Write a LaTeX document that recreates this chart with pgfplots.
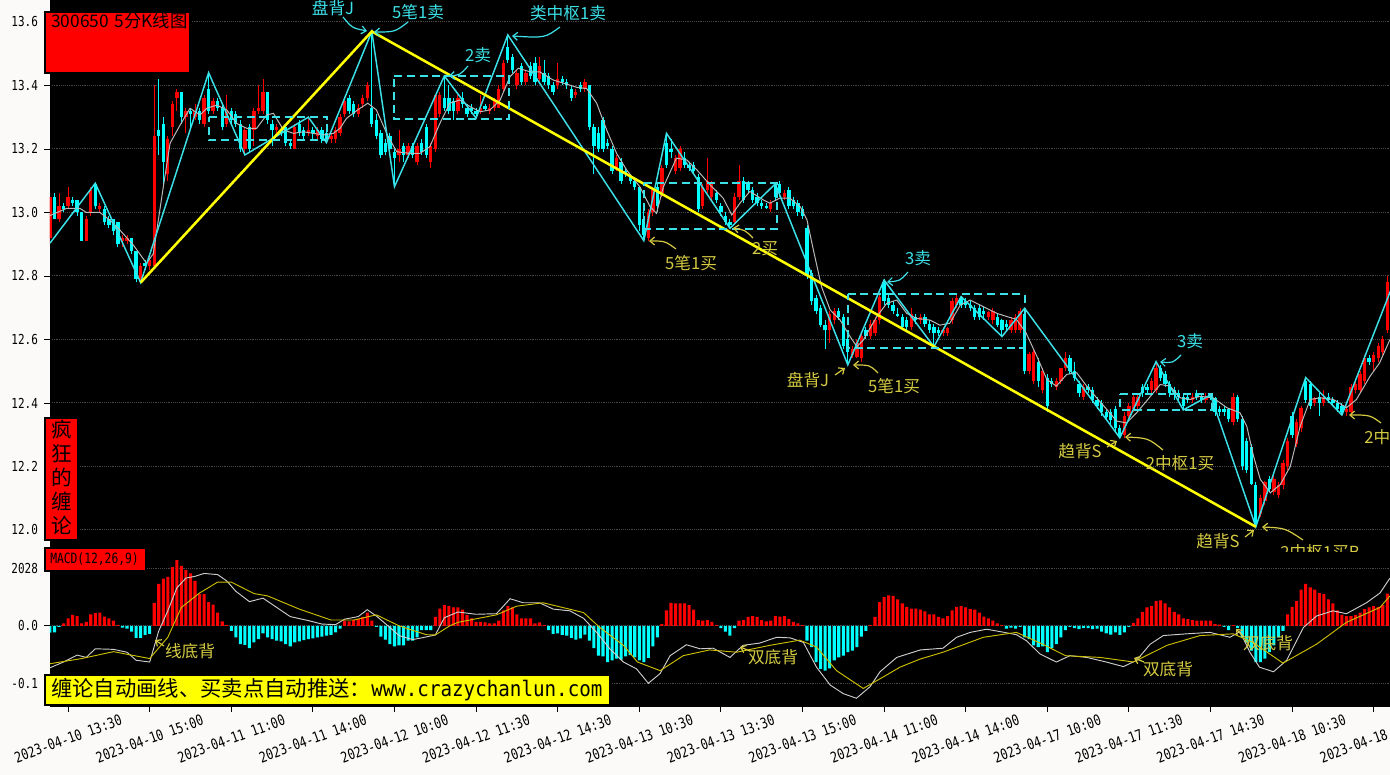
\documentclass[border=0pt]{standalone}
\usepackage{fontspec}
\usepackage{pgfplots}
\usepackage{pgfplotstable}
\pgfplotsset{compat=1.18}
\usetikzlibrary{arrows.meta}
\setmainfont{Noto Sans CJK SC}
\newfontfamily\cjk{Noto Sans CJK SC}
\newfontfamily\monof{DejaVu Sans Mono}[FakeStretch=0.9]
\newfontfamily\monon{DejaVu Sans Mono}[FakeStretch=0.8]
\definecolor{bg}{RGB}{252,250,249}
\definecolor{kred}{RGB}{255,0,0}
\definecolor{kcyan}{RGB}{0,255,255}
\definecolor{zz}{RGB}{60,225,232}
\definecolor{olive}{RGB}{212,202,66}
\definecolor{ylw}{RGB}{255,255,0}
\definecolor{grd}{RGB}{72,72,72}
\definecolor{dea}{RGB}{205,190,0}
\definecolor{dif}{RGB}{205,205,205}

\pgfplotstableread{
x o h l c
-1 12.92 13.05 12.90 13.05
0 13.05 13.06 12.98 12.98
1 12.98 13.06 12.97 13.02
2 13.02 13.03 13.00 13.01
3 13.02 13.08 13.01 13.05
4 13.04 13.05 13.02 13.03
5 13.04 13.04 12.99 13.00
6 13.00 13.00 12.91 12.91
7 12.91 12.99 12.91 12.98
8 13.00 13.08 12.99 13.07
9 13.09 13.09 13.01 13.02
10 13.01 13.03 13.00 13.02
11 13.01 13.02 12.96 12.97
12 12.98 12.99 12.95 12.96
13 12.98 12.98 12.93 12.94
14 12.97 12.97 12.89 12.90
15 12.91 12.93 12.89 12.92
16 12.91 12.93 12.90 12.92
17 12.92 12.92 12.87 12.88
18 12.88 12.88 12.78 12.79
19 12.78 12.84 12.78 12.83
20 12.84 12.85 12.82 12.83
21 12.83 12.86 12.82 12.85
22 12.83 13.40 12.83 13.24
23 13.26 13.42 13.18 13.24
24 13.28 13.30 13.09 13.16
25 13.12 13.24 13.10 13.23
26 13.27 13.35 13.24 13.34
27 13.36 13.39 13.32 13.38
28 13.38 13.38 13.28 13.30
29 13.30 13.33 13.25 13.32
30 13.32 13.33 13.27 13.31
31 13.30 13.34 13.29 13.32
32 13.32 13.33 13.28 13.29
33 13.28 13.37 13.27 13.36
34 13.39 13.44 13.31 13.32
35 13.32 13.36 13.31 13.35
36 13.35 13.36 13.32 13.33
37 13.33 13.34 13.26 13.27
38 13.28 13.37 13.27 13.32
39 13.32 13.33 13.28 13.29
40 13.31 13.32 13.27 13.28
41 13.28 13.29 13.19 13.20
42 13.20 13.27 13.18 13.26
43 13.27 13.28 13.19 13.20
44 13.26 13.33 13.21 13.32
45 13.32 13.40 13.31 13.33
46 13.32 13.42 13.31 13.38
47 13.38 13.38 13.28 13.29
48 13.28 13.29 13.21 13.26
49 13.26 13.28 13.24 13.27
50 13.26 13.27 13.24 13.25
51 13.27 13.28 13.21 13.22
52 13.22 13.23 13.20 13.21
53 13.20 13.28 13.20 13.27
54 13.28 13.29 13.24 13.25
55 13.26 13.27 13.23 13.24
56 13.25 13.30 13.24 13.26
57 13.26 13.27 13.23 13.25
58 13.24 13.27 13.23 13.26
59 13.26 13.27 13.22 13.23
60 13.25 13.26 13.22 13.23
61 13.23 13.25 13.22 13.24
62 13.23 13.27 13.22 13.26
63 13.25 13.31 13.24 13.30
64 13.31 13.36 13.30 13.35
65 13.36 13.37 13.31 13.32
66 13.34 13.35 13.30 13.31
67 13.31 13.34 13.30 13.33
68 13.34 13.37 13.33 13.36
69 13.36 13.41 13.35 13.40
70 13.33 13.57 13.27 13.28
71 13.29 13.31 13.23 13.24
72 13.25 13.26 13.17 13.18
73 13.22 13.23 13.18 13.19
74 13.24 13.25 13.19 13.20
75 13.19 13.20 13.08 13.17
76 13.18 13.26 13.16 13.20
77 13.21 13.22 13.16 13.18
78 13.18 13.22 13.17 13.21
79 13.21 13.22 13.17 13.18
80 13.16 13.22 13.15 13.21
81 13.22 13.23 13.18 13.19
82 13.27 13.28 13.17 13.18
83 13.16 13.22 13.14 13.21
84 13.20 13.37 13.19 13.37
85 13.31 13.38 13.30 13.37
86 13.36 13.43 13.32 13.33
87 13.36 13.40 13.31 13.32
88 13.35 13.36 13.29 13.32
89 13.32 13.37 13.31 13.36
90 13.36 13.38 13.33 13.34
91 13.33 13.34 13.30 13.31
92 13.33 13.34 13.31 13.32
93 13.32 13.33 13.30 13.31
94 13.32 13.37 13.31 13.33
95 13.335 13.34 13.32 13.325
96 13.32 13.34 13.31 13.33
97 13.33 13.36 13.32 13.35
98 13.33 13.40 13.33 13.39
99 13.39 13.48 13.38 13.47
100 13.52 13.56 13.47 13.48
101 13.49 13.50 13.44 13.45
102 13.40 13.45 13.39 13.44
103 13.46 13.47 13.40 13.41
104 13.41 13.45 13.40 13.44
105 13.46 13.475 13.42 13.43
106 13.47 13.49 13.40 13.41
107 13.42 13.49 13.41 13.46
108 13.44 13.48 13.40 13.41
109 13.43 13.44 13.39 13.40
110 13.40 13.41 13.37 13.38
111 13.40 13.47 13.39 13.42
112 13.42 13.43 13.40 13.41
113 13.41 13.42 13.39 13.40
114 13.39 13.40 13.35 13.36
115 13.37 13.39 13.36 13.38
116 13.40 13.41 13.38 13.39
117 13.39 13.42 13.38 13.41
118 13.40 13.40 13.26 13.27
119 13.27 13.28 13.12 13.21
120 13.25 13.27 13.19 13.20
121 13.29 13.30 13.19 13.20
122 13.22 13.23 13.20 13.21
123 13.20 13.21 13.12 13.13
124 13.14 13.18 13.13 13.17
125 13.16 13.17 13.09 13.10
126 13.13 13.14 13.11 13.12
127 13.11 13.12 13.09 13.10
128 13.10 13.11 13.07 13.08
129 13.08 13.08 12.94 12.96
130 12.98 13.01 12.91 12.93
131 12.92 13.01 12.91 13.00
132 13.00 13.08 12.99 13.07
133 13.08 13.09 13.00 13.02
134 13.06 13.15 13.05 13.14
135 13.22 13.25 13.14 13.15
136 13.20 13.23 13.17 13.19
137 13.13 13.18 13.12 13.17
138 13.14 13.21 13.13 13.20
139 13.17 13.19 13.14 13.15
140 13.15 13.16 13.13 13.14
141 13.15 13.16 13.12 13.13
142 13.11 13.12 13.00 13.01
143 13.02 13.09 13.01 13.08
144 13.07 13.17 13.06 13.10
145 13.05 13.10 13.04 13.09
146 13.06 13.07 13.03 13.04
147 13.02 13.03 12.99 13.00
148 12.99 13.00 12.96 12.97
149 12.97 12.98 12.95 12.96
150 12.97 13.06 12.96 13.05
151 13.05 13.15 13.04 13.10
152 13.10 13.11 13.03 13.04
153 13.09 13.10 13.06 13.07
154 13.07 13.08 13.03 13.04
155 13.05 13.06 13.02 13.03
156 13.03 13.04 13.01 13.02
157 13.02 13.03 13.01 13.015
158 13.01 13.04 13.00 13.03
159 13.09 13.09 13.04 13.05
160 13.09 13.10 13.05 13.06
161 13.05 13.07 13.04 13.06
162 13.07 13.08 13.01 13.02
163 13.04 13.05 13.01 13.02
164 13.03 13.04 12.99 13.00
165 13.01 13.02 12.98 12.99
166 12.95 12.96 12.79 12.80
167 12.81 12.82 12.71 12.72
168 12.73 12.74 12.68 12.69
169 12.70 12.71 12.64 12.645
170 12.645 12.66 12.57 12.63
171 12.63 12.69 12.59 12.68
172 12.66 12.70 12.65 12.69
173 12.69 12.70 12.66 12.67
174 12.67 12.68 12.57 12.58
175 12.60 12.61 12.52 12.56
176 12.55 12.58 12.54 12.57
177 12.545 12.60 12.54 12.59
178 12.54 12.62 12.53 12.61
179 12.63 12.64 12.60 12.61
180 12.61 12.66 12.60 12.65
181 12.62 12.67 12.61 12.66
182 12.66 12.74 12.65 12.735
183 12.78 12.79 12.71 12.72
184 12.73 12.74 12.70 12.71
185 12.71 12.72 12.68 12.69
186 12.68 12.70 12.67 12.675
187 12.67 12.68 12.63 12.64
188 12.66 12.67 12.63 12.64
189 12.64 12.70 12.63 12.68
190 12.67 12.68 12.65 12.66
191 12.66 12.68 12.65 12.67
192 12.67 12.68 12.64 12.65
193 12.65 12.66 12.62 12.63
194 12.64 12.65 12.577 12.62
195 12.63 12.64 12.61 12.62
196 12.62 12.64 12.61 12.63
197 12.62 12.64 12.61 12.635
198 12.66 12.73 12.65 12.72
199 12.71 12.74 12.70 12.73
200 12.73 12.735 12.70 12.71
201 12.72 12.73 12.70 12.71
202 12.71 12.72 12.69 12.70
203 12.70 12.71 12.66 12.67
204 12.70 12.71 12.66 12.67
205 12.69 12.705 12.66 12.68
206 12.67 12.69 12.66 12.685
207 12.66 12.70 12.65 12.69
208 12.67 12.68 12.64 12.645
209 12.66 12.665 12.609 12.63
210 12.65 12.66 12.63 12.64
211 12.63 12.67 12.62 12.66
212 12.63 12.68 12.62 12.67
213 12.63 12.70 12.62 12.69
214 12.68 12.70 12.49 12.50
215 12.50 12.56 12.49 12.555
216 12.47 12.57 12.46 12.56
217 12.53 12.54 12.45 12.47
218 12.44 12.51 12.43 12.50
219 12.48 12.49 12.37 12.39
220 12.47 12.48 12.45 12.46
221 12.45 12.48 12.44 12.47
222 12.47 12.51 12.46 12.51
223 12.51 12.56 12.50 12.54
224 12.54 12.55 12.49 12.50
225 12.50 12.53 12.47 12.48
226 12.46 12.47 12.42 12.43
227 12.42 12.46 12.41 12.45
228 12.45 12.46 12.43 12.44
229 12.44 12.45 12.40 12.41
230 12.41 12.42 12.38 12.39
231 12.40 12.41 12.36 12.37
232 12.37 12.38 12.35 12.355
233 12.37 12.38 12.33 12.345
234 12.38 12.39 12.31 12.32
235 12.32 12.33 12.29 12.30
236 12.30 12.37 12.29 12.36
237 12.36 12.40 12.35 12.39
238 12.38 12.43 12.37 12.42
239 12.39 12.43 12.38 12.42
240 12.45 12.46 12.42 12.43
241 12.45 12.46 12.43 12.44
242 12.44 12.48 12.43 12.47
243 12.44 12.53 12.43 12.51
244 12.51 12.52 12.47 12.48
245 12.49 12.50 12.45 12.46
246 12.46 12.47 12.42 12.43
247 12.44 12.45 12.41 12.43
248 12.43 12.44 12.41 12.42
249 12.42 12.43 12.378 12.39
250 12.42 12.43 12.40 12.41
251 12.41 12.43 12.40 12.42
252 12.43 12.44 12.41 12.42
253 12.42 12.43 12.40 12.41
254 12.41 12.43 12.40 12.42
255 12.43 12.43 12.41 12.415
256 12.415 12.42 12.36 12.37
257 12.38 12.39 12.36 12.37
258 12.38 12.39 12.36 12.37
259 12.38 12.385 12.34 12.35
260 12.34 12.43 12.33 12.42
261 12.42 12.425 12.34 12.35
262 12.35 12.36 12.19 12.20
263 12.28 12.29 12.18 12.19
264 12.26 12.27 12.14 12.145
265 12.14 12.15 12.01 12.02
266 12.05 12.11 12.04 12.10
267 12.09 12.155 12.08 12.15
268 12.16 12.17 12.12 12.13
269 12.12 12.17 12.11 12.16
270 12.11 12.15 12.10 12.14
271 12.14 12.22 12.13 12.21
272 12.20 12.29 12.19 12.28
273 12.36 12.37 12.29 12.30
274 12.27 12.35 12.26 12.34
275 12.32 12.39 12.31 12.385
276 12.47 12.48 12.40 12.41
277 12.46 12.47 12.38 12.39
278 12.40 12.42 12.39 12.415
279 12.42 12.43 12.36 12.40
280 12.40 12.44 12.39 12.42
281 12.42 12.43 12.40 12.41
282 12.41 12.42 12.39 12.40
283 12.40 12.41 12.37 12.38
284 12.39 12.40 12.362 12.37
285 12.37 12.39 12.36 12.38
286 12.37 12.46 12.36 12.45
287 12.44 12.47 12.43 12.46
288 12.44 12.50 12.43 12.49
289 12.47 12.55 12.46 12.54
290 12.54 12.55 12.52 12.53
291 12.53 12.56 12.50 12.55
292 12.54 12.59 12.53 12.58
293 12.56 12.61 12.55 12.60
294 12.63 12.80 12.62 12.78
}\kdata

\pgfplotstableread{
x m
-1 -0.012
0 -0.0115
1 -0.002
2 0.004
3 0.013
4 0.019
5 0.017
6 0.004
7 0.007
8 0.020
9 0.022
10 0.023
11 0.016
12 0.013
13 0.009
14 0.001
15 -0.003
16 -0.005
17 -0.010
18 -0.021
19 -0.021
20 -0.016
21 -0.014
22 0.040
23 0.073
24 0.082
25 0.085
26 0.102
27 0.114
28 0.104
29 0.097
30 0.091
31 0.078
32 0.055
33 0.055
34 0.041
35 0.037
36 0.023
37 0.0075
38 0.001
39 -0.009
40 -0.020
41 -0.032
42 -0.033
43 -0.039
44 -0.029
45 -0.023
46 -0.013
47 -0.020
48 -0.023
49 -0.026
50 -0.027
51 -0.032
52 -0.036
53 -0.029
54 -0.027
55 -0.025
56 -0.023
57 -0.022
58 -0.020
59 -0.019
60 -0.017
61 -0.016
62 -0.0115
63 -0.005
64 0.009
65 0.0075
66 0.010
67 0.0115
68 0.0155
69 0.023
70 0.009
71 -0.002
72 -0.019
73 -0.024
74 -0.032
75 -0.036
76 -0.034
77 -0.034
78 -0.026
79 -0.026
80 -0.020
81 -0.0075
82 -0.0075
83 -0.0075
84 0.0155
85 0.030
86 0.036
87 0.034
88 0.032
89 0.032
90 0.028
91 0.019
92 0.013
93 0.007
94 0.007
95 0.006
96 0.004
97 0.004
98 0.009
99 0.027
100 0.034
101 0.032
102 0.020
103 0.013
104 0.013
105 0.013
106 0.004
107 0.006
108 0.001
109 -0.0075
110 -0.014
111 -0.013
112 -0.016
113 -0.017
114 -0.021
115 -0.024
116 -0.022
117 -0.0155
118 -0.026
119 -0.039
120 -0.052
121 -0.053
122 -0.063
123 -0.060
124 -0.057
125 -0.059
126 -0.053
127 -0.051
128 -0.055
129 -0.060
130 -0.063
131 -0.056
132 -0.036
133 -0.020
134 0.003
135 0.027
136 0.040
137 0.039
138 0.039
139 0.039
140 0.036
141 0.028
142 0.010
143 0.009
144 0.010
145 0.007
146 0.001
147 -0.004
148 -0.010
149 -0.017
150 -0.004
151 0.009
152 0.010
153 0.0155
154 0.017
155 0.0155
156 0.010
157 0.0075
158 0.009
159 0.017
160 0.016
161 0.017
162 0.0115
163 0.007
164 0.004
165 0.001
166 -0.026
167 -0.037
168 -0.063
169 -0.075
170 -0.078
171 -0.074
172 -0.060
173 -0.055
174 -0.052
175 -0.046
176 -0.043
177 -0.037
178 -0.019
179 -0.009
180 0.001
181 0.0155
182 0.041
183 0.050
184 0.053
185 0.052
186 0.046
187 0.039
188 0.033
189 0.030
190 0.030
191 0.028
192 0.025
193 0.020
194 0.020
195 0.0155
196 0.013
197 0.017
198 0.027
199 0.033
200 0.034
201 0.032
202 0.029
203 0.028
204 0.023
205 0.016
206 0.013
207 0.009
208 0.004
209 0.001
210 -0.005
211 -0.003
212 -0.005
213 -0.002
214 -0.020
215 -0.023
216 -0.034
217 -0.037
218 -0.036
219 -0.046
220 -0.039
221 -0.032
222 -0.020
223 -0.0075
224 -0.002
225 -0.004
226 -0.006
227 -0.004
228 -0.004
229 -0.006
230 -0.005
231 -0.010
232 -0.013
233 -0.0155
234 -0.0115
235 -0.016
236 -0.0115
237 -0.002
238 0.005
239 0.013
240 0.024
241 0.032
242 0.034
243 0.043
244 0.044
245 0.039
246 0.032
247 0.024
248 0.020
249 0.013
250 0.0115
251 0.010
252 0.009
253 0.009
254 0.009
255 0.009
256 0.003
257 0.002
258 -0.002
259 -0.0075
260 0.001
261 -0.004
262 -0.020
263 -0.029
264 -0.043
265 -0.063
266 -0.063
267 -0.057
268 -0.046
269 -0.034
270 -0.020
271 -0.009
272 0.020
273 0.033
274 0.043
275 0.063
276 0.073
277 0.067
278 0.063
279 0.057
280 0.055
281 0.046
282 0.039
283 0.027
284 0.019
285 0.017
286 0.017
287 0.019
288 0.023
289 0.029
290 0.032
291 0.034
292 0.033
293 0.036
294 0.056
}\macd

\begin{document}
\begin{tikzpicture}
\fill[bg] (0,0) rectangle (1042.5pt,581.25pt);
\fill[black] (37.5pt,51.75pt) rectangle (1042.5pt,581.25pt);

% ---------------- main K-line panel ----------------
\begin{axis}[
  at={(37.5pt,169.5pt)}, anchor=south west,
  width=1005pt, height=411.75pt, scale only axis,
  xmin=-0.99, xmax=294.6, ymin=11.94, ymax=13.669,
  axis background/.style={fill=black},
  axis line style={draw=black},
  xtick=\empty,
  ytick={12.0,12.2,12.4,12.6,12.8,13.0,13.2,13.4,13.6},
  yticklabels={12.0,12.2,12.4,12.6,12.8,13.0,13.2,13.4,13.6},
  ytick pos=left, tick align=outside, major tick length=4.5pt,
  tick style={draw=black, line width=0.6pt},
  yticklabel style={font=\monon\fontsize{10.3pt}{11pt}\selectfont, text=black, xshift=-1pt},
  ymajorgrids, grid style={densely dotted, draw=grd, line width=0.8pt},
]
% wicks
\addplot[draw=none, mark=none, forget plot,
  restrict expr to domain={\thisrow{c}-\thisrow{o}}{0:5},
  error bars/.cd, y dir=plus, y explicit, error mark=none,
  error bar style={draw=kred, line width=0.75pt}]
  table[x=x, y=l, y error plus expr=\thisrow{h}-\thisrow{l}] {\kdata};
\addplot[draw=none, mark=none, forget plot,
  restrict expr to domain={\thisrow{c}-\thisrow{o}}{-5:-0.000001},
  error bars/.cd, y dir=plus, y explicit, error mark=none,
  error bar style={draw=kcyan, line width=0.75pt}]
  table[x=x, y=l, y error plus expr=\thisrow{h}-\thisrow{l}] {\kdata};
% bodies
\addplot[draw=none, mark=none, forget plot,
  restrict expr to domain={\thisrow{c}-\thisrow{o}}{0:5},
  error bars/.cd, y dir=plus, y explicit, error mark=none,
  error bar style={draw=kred, line width=2.5pt}]
  table[x=x, y=o, y error plus expr=\thisrow{c}-\thisrow{o}] {\kdata};
\addplot[draw=none, mark=none, forget plot,
  restrict expr to domain={\thisrow{c}-\thisrow{o}}{-5:-0.000001},
  error bars/.cd, y dir=plus, y explicit, error mark=none,
  error bar style={draw=kcyan, line width=2.5pt}]
  table[x=x, y=c, y error plus expr=\thisrow{o}-\thisrow{c}] {\kdata};
% moving average
\addplot[dif!90!black, line width=0.75pt] coordinates {
(-1,12.99)(2.7,13.013)(5.6,13.013)(7,13.0)(10,13.0)(12.2,12.976)(14.4,12.945)(17.4,12.897)(20.3,12.84)(21.8,12.87)(24,13.08)(25.5,13.218)(27.7,13.275)(29.9,13.328)(32.1,13.307)(33.6,13.328)(35.8,13.338)(38,13.323)(40.2,13.28)(42.4,13.265)(44.6,13.265)(46.8,13.307)(48.3,13.312)(50.5,13.26)(52.7,13.249)(54.9,13.254)(57.1,13.249)(59.3,13.244)(61.5,13.249)(63,13.265)(64.4,13.296)(66.9,13.323)(69.1,13.344)(71,13.323)(73.6,13.239)(75.5,13.191)(78.4,13.186)(80.6,13.186)(82.8,13.207)(85,13.28)(87.2,13.344)(89.4,13.354)(91.7,13.333)(93.9,13.317)(96.1,13.323)(98.3,13.354)(100.5,13.428)(102.3,13.454)(104.9,13.443)(107,13.443)(110,13.417)(112.3,13.407)(115.2,13.394)(117.4,13.39)(119.6,13.344)(121.8,13.26)(124,13.186)(126.2,13.134)(129.1,13.081)(131.4,13.018)(132.8,12.997)(134.3,13.08)(137.2,13.171)(139.5,13.165)(141.7,13.134)(144.6,13.087)(147.5,13.045)(149.4,12.992)(151.2,13.029)(153.4,13.066)(156.4,13.039)(157.8,13.029)(160,13.045)(162.2,13.045)(164.5,13.018)(166,12.976)(167.4,12.882)(169.2,12.766)(171.1,12.693)(173.3,12.661)(175.5,12.609)(177,12.577)(178.4,12.598)(181.4,12.672)(183.6,12.714)(185.8,12.724)(188,12.682)(190.2,12.666)(193.1,12.661)(195.3,12.645)(197.5,12.651)(199.8,12.708)(202,12.724)(204.9,12.703)(207.9,12.682)(210.1,12.672)(212.2,12.663)(214.3,12.621)(216.7,12.547)(218.9,12.474)(221,12.453)(223.3,12.49)(225.5,12.495)(227.7,12.453)(229.9,12.416)(232.1,12.38)(234.3,12.343)(236.5,12.337)(238.7,12.369)(240.9,12.406)(243.9,12.458)(246.1,12.453)(248.3,12.416)(250.5,12.411)(252.7,12.421)(255.6,12.416)(258.6,12.385)(261.5,12.369)(263,12.327)(264.5,12.232)(266,12.159)(268.2,12.117)(270.4,12.143)(272.6,12.2)(274.8,12.327)(277,12.411)(279.2,12.416)(282.1,12.411)(285,12.385)(287.2,12.411)(290.2,12.484)(292.3,12.526)(294.6,12.6)};
% zigzag strokes
\addplot[zz, line width=1.1pt] coordinates {(-1,12.903)(9,13.092)(19,12.779)(34,13.44)(42,13.181)(56,13.30)(60,13.22)(70,13.57)(75,13.081)(86,13.43)(93,13.297)(100,13.559)(130,12.911)(135,13.249)(149,12.95)(159,13.09)(175,12.52)(183,12.787)(194,12.577)(200,12.735)(209,12.609)(214,12.698)(235,12.29)(243,12.53)(249,12.378)(255,12.425)(265,12.01)(276,12.48)(284,12.362)(296,12.80)};
% segment line
\addplot[ylw, line width=1.9pt] coordinates {(19,12.779)(70,13.57)(265,12.01)};
% pivot boxes
\addplot[zz, line width=1.5pt, dash pattern=on 6pt off 3.5pt] coordinates {(34,13.302)(60.2,13.302)(60.2,13.228)(34,13.228)(34,13.302)};
\addplot[zz, line width=1.5pt, dash pattern=on 6pt off 3.5pt] coordinates {(75,13.43)(100.2,13.43)(100.2,13.293)(75,13.293)(75,13.43)};
\addplot[zz, line width=1.5pt, dash pattern=on 6pt off 3.5pt] coordinates {(130,13.092)(159.3,13.092)(159.3,12.948)(130,12.948)(130,13.092)};
\addplot[zz, line width=1.5pt, dash pattern=on 6pt off 3.5pt] coordinates {(175,12.742)(214,12.742)(214,12.572)(175,12.572)(175,12.742)};
\addplot[zz, line width=1.5pt, dash pattern=on 6pt off 3.5pt] coordinates {(235,12.428)(255.3,12.428)(255.3,12.378)(235,12.378)(235,12.428)};
\end{axis}

% ---------------- main annotations (pixel coordinates) ----------------
\begin{scope}[shift={(0pt,581.25pt)}, x=0.75pt, y=-0.75pt,
  lab/.style={font=\cjk\fontsize{12.5pt}{14pt}\selectfont, inner sep=0pt},
  arr/.style={line width=0.9pt, -{Straight Barb[length=3.5pt,width=6pt]}}]
\node[lab, text=zz] at (333,8) {盘背J};
\node[lab, text=zz] at (418,12) {5笔1卖};
\node[lab, text=zz] at (568,13) {类中枢1卖};
\node[lab, text=zz] at (478,55) {2卖};
\node[lab, text=zz] at (918,258) {3卖};
\node[lab, text=zz] at (1190,341) {3卖};
\draw[arr, zz] (343,17) .. controls (352,28) .. (367,31);
\draw[arr, zz] (408,22) .. controls (395,32) .. (374,32);
\draw[arr, zz] (560,27) .. controls (545,38) .. (512,36);
\draw[arr, zz] (468,66) .. controls (460,75) .. (449,76);
\draw[arr, zz] (908,272) .. controls (900,281) .. (887,282);
\draw[arr, zz] (1181,355) .. controls (1173,363) .. (1160,362);

\node[lab, text=olive] at (691,263) {5笔1买};
\node[lab, text=olive] at (765,249) {2买};
\node[lab, text=olive] at (808,380) {盘背J};
\node[lab, text=olive] at (894,386) {5笔1买};
\node[lab, text=olive] at (1080,451) {趋背S};
\node[lab, text=olive] at (1180,463) {2中枢1买};
\node[lab, text=olive] at (1218,541) {趋背S};
\node[lab, text=olive] at (1320,552) {2中枢1买B};
\node[lab, text=olive, anchor=west] at (1364,437) {2中枢1买};
\draw[arr, olive] (676,249) .. controls (665,241) .. (649,241);
\draw[arr, olive] (753,238) .. controls (745,230) .. (733,228);
\draw[arr, olive] (835,375) -- (845,368);
\draw[arr, olive] (878,373) .. controls (870,365) .. (853,365);
\draw[arr, olive] (1107,447) -- (1117,441);
\draw[arr, olive] (1163,450) .. controls (1148,438) .. (1125,437);
\draw[arr, olive] (1245,537) -- (1254,530);
\draw[arr, olive] (1303,540) .. controls (1285,528) .. (1262,527);
\draw[arr, olive] (1381,423) .. controls (1370,415) .. (1349,415);
\end{scope}

% ---------------- MACD panel ----------------
\begin{axis}[
  at={(37.5pt,51.75pt)}, anchor=south west,
  width=1005pt, height=115.5pt, scale only axis,
  xmin=-0.99, xmax=294.6, ymin=-0.1395, ymax=0.1283,
  axis background/.style={fill=black},
  axis line style={draw=black},
  xtick={3,21,...,291},
  xticklabels={{2023-04-10 13:30},{2023-04-10 15:00},{2023-04-11 11:00},{2023-04-11 14:00},{2023-04-12 10:00},{2023-04-12 11:30},{2023-04-12 14:30},{2023-04-13 10:30},{2023-04-13 13:30},{2023-04-13 15:00},{2023-04-14 11:00},{2023-04-14 14:00},{2023-04-17 10:00},{2023-04-17 11:30},{2023-04-17 14:30},{2023-04-18 10:30},{2023-04-18 13:30}},
  xtick pos=bottom, ytick pos=left,
  tick align=outside, major tick length=4.5pt,
  tick style={draw=black, line width=0.6pt},
  xticklabel style={font=\monon\fontsize{11pt}{12pt}\selectfont, text=black, yshift=-20pt, rotate=20, anchor=center},
  ytick={-0.1,0,0.1}, yticklabels={-0.1,0.0,2028},
  yticklabel style={font=\monon\fontsize{10.3pt}{11pt}\selectfont, text=black, xshift=-1pt},
  ymajorgrids, grid style={densely dotted, draw=grd, line width=0.8pt},
]
\addplot[ybar, bar width=2.3pt, bar shift=0pt, fill=kred, draw=none,
  restrict y to domain=0:1] table[x=x, y=m] {\macd};
\addplot[ybar, bar width=2.3pt, bar shift=0pt, fill=kcyan, draw=none,
  restrict y to domain=-1:0] table[x=x, y=m] {\macd};
\addplot[dif, line width=0.7pt] coordinates {
(-1,-0.073)(2,-0.063)(5,-0.051)(7,-0.055)(9,-0.040)(13,-0.041)(16,-0.046)(18,-0.060)(21,-0.063)(23,-0.009)(25,0.026)(27,0.066)(29,0.083)(31,0.086)(33,0.091)(36,0.089)(38,0.078)(40,0.060)(43,0.042)(46,0.048)(49,0.032)(52,0.016)(56,0.009)(59,0.003)(62,0.002)(64,0.0115)(67,0.016)(69,0.028)(71,0.017)(74,-0.003)(76,-0.017)(79,-0.024)(81,-0.021)(84,-0.016)(86,0.014)(89,0.024)(93,0.020)(97.5,0.021)(100.5,0.047)(103.4,0.040)(107,0.040)(110,0.029)(113.7,0.026)(116.7,0.013)(119.6,-0.0115)(122.5,-0.040)(125.5,-0.063)(128.4,-0.075)(131,-0.100)(133.6,-0.083)(135.8,-0.052)(139.4,-0.033)(142.4,-0.040)(145.3,-0.039)(149,-0.055)(151.9,-0.034)(155.6,-0.030)(159.3,-0.020)(162.3,-0.021)(165.2,-0.029)(168.1,-0.072)(171.1,-0.103)(174,-0.118)(176.9,-0.126)(179.9,-0.106)(182.1,-0.080)(185.8,-0.055)(191,-0.042)(196,-0.039)(199,-0.020)(202,-0.0115)(205.6,-0.006)(208.5,-0.010)(212.2,-0.0155)(214.4,-0.026)(217.4,-0.049)(221,-0.063)(224,-0.052)(227.7,-0.055)(232,-0.063)(235.8,-0.071)(238.7,-0.060)(241.7,-0.032)(244.6,-0.017)(249.7,-0.014)(254.9,-0.0115)(259.3,-0.020)(261.5,-0.010)(263.7,-0.046)(265.8,-0.072)(268.9,-0.080)(271.8,-0.060)(275.5,-0.003)(278.4,0.017)(282,0.026)(285,0.021)(289.4,0.040)(292.4,0.057)(294.6,0.083)};
\addplot[dea, line width=0.7pt] coordinates {
(-1,-0.066)(6,-0.057)(13,-0.045)(21,-0.057)(25,-0.020)(28,0.032)(32,0.057)(36,0.076)(39,0.076)(44,0.056)(47,0.052)(54,0.029)(61,0.010)(66,0.010)(71,0.019)(76,0.0)(82,-0.0155)(84,-0.016)(87.2,0.0)(89,0.006)(97.5,0.019)(101.9,0.034)(107.8,0.040)(116.7,0.023)(120.3,-0.003)(125.5,-0.034)(128.6,-0.063)(133.6,-0.078)(138.7,-0.052)(144.5,-0.042)(150.5,-0.046)(157.8,-0.034)(164.4,-0.025)(168.1,-0.037)(172.5,-0.078)(178.4,-0.109)(182.8,-0.089)(186.5,-0.072)(190.9,-0.058)(196,-0.046)(204.9,-0.020)(212.2,-0.0115)(218,-0.032)(223,-0.052)(230.6,-0.055)(238,-0.063)(245.4,-0.034)(252.7,-0.017)(260,-0.014)(264.4,-0.029)(271,-0.065)(278.4,-0.032)(285,0.006)(292.4,0.032)(294.6,0.052)};
\end{axis}

% ---------------- MACD annotations and boxes ----------------
\begin{scope}[shift={(0pt,581.25pt)}, x=0.75pt, y=-0.75pt,
  lab/.style={font=\cjk\fontsize{12.5pt}{14pt}\selectfont, inner sep=0pt},
  arr/.style={line width=0.9pt, -{Straight Barb[length=3.5pt,width=6pt]}}]
\node[lab, text=olive] at (190,651) {线底背};
\node[lab, text=olive] at (773,657) {双底背};
\node[lab, text=olive] at (1168,669) {双底背};
\node[lab, text=olive] at (1268,643) {双底背};
\draw[arr, olive] (164,646) -- (155,640);
\draw[arr, olive] (750,651) -- (740,647);
\draw[arr, olive] (1144,662) -- (1134,658);
\draw[arr, olive] (1244,637) -- (1236,629);

\filldraw[fill=kred, draw=black, line width=0.8pt] (45,12) rectangle (190,73);
\node[anchor=north west, inner sep=0pt, font=\cjk\fontsize{13pt}{14pt}\selectfont, text=black] at (51,13) {300650\,\,5分K线图};
\filldraw[fill=kred, draw=black, line width=0.8pt] (45,418) rectangle (78,540);
\node[anchor=north, inner sep=0pt, align=center, font=\cjk\fontsize{15.5pt}{18pt}\selectfont, text=black] at (61.5,420) {疯\\狂\\的\\缠\\论};
\filldraw[fill=kred, draw=black, line width=0.8pt] (45,548) rectangle (146,571);
\node[anchor=west, inner sep=0pt, font=\monon\fontsize{10.6pt}{11pt}\selectfont, text=black] at (50,559.5) {MACD(12,26,9)};
\filldraw[fill=ylw, draw=black, line width=1pt] (45,675) rectangle (610,705);
\node[anchor=west, inner sep=0pt, text=black] at (51,690) {\cjk\fontsize{16pt}{18pt}\selectfont 缠论自动画线、买卖点自动推送：\monof www.crazychanlun.com};
\end{scope}

\pgfresetboundingbox
\useasboundingbox (0,0) rectangle (1042.5pt,581.25pt);
\end{tikzpicture}
\end{document}
